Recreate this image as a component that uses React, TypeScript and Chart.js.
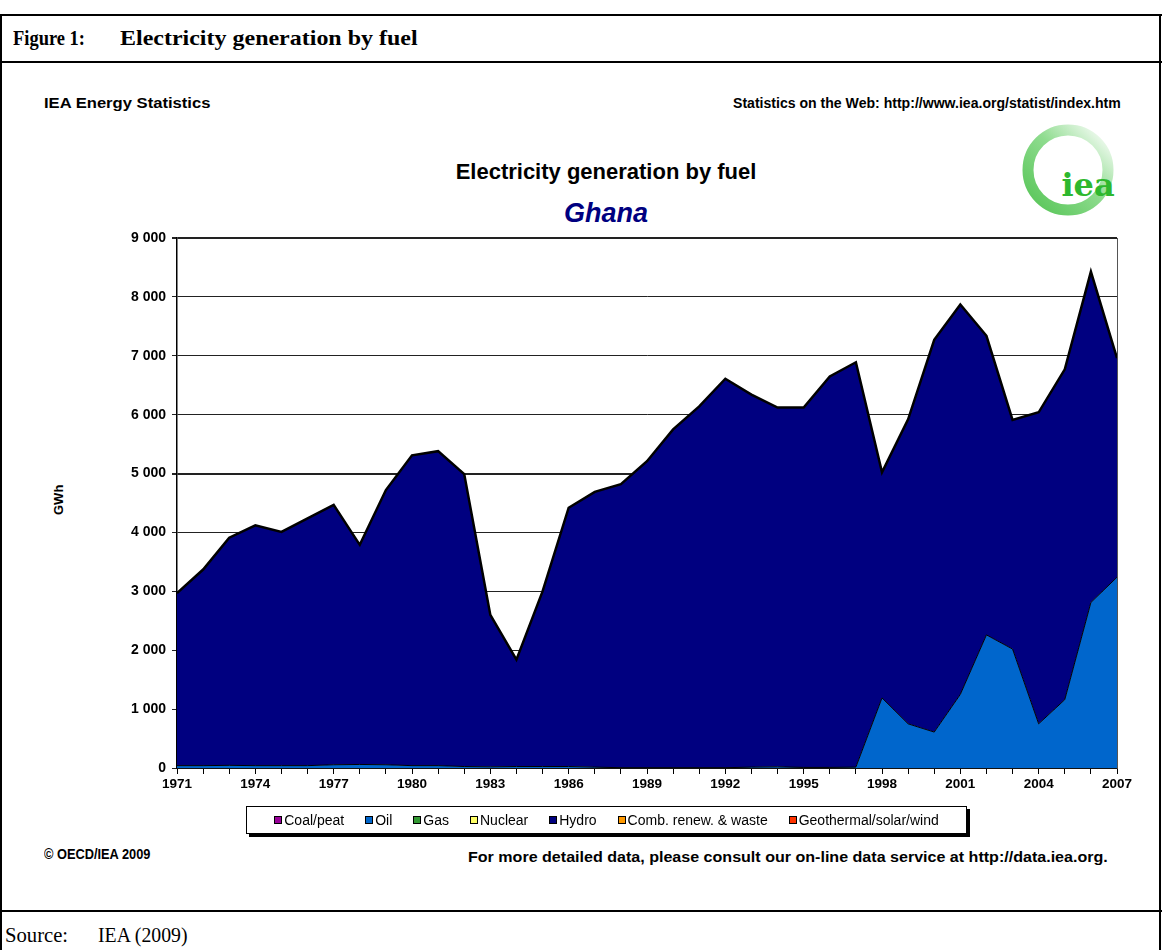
import React, { useEffect, useLayoutEffect, useRef } from "react";
import { Chart, registerables } from "chart.js";
Chart.register(...registerables);

const years = [
  "1971", "1972", "1973", "1974", "1975", "1976", "1977", "1978", "1979", "1980",
  "1981", "1982", "1983", "1984", "1985", "1986", "1987", "1988", "1989", "1990",
  "1991", "1992", "1993", "1994", "1995", "1996", "1997", "1998", "1999", "2000",
  "2001", "2002", "2003", "2004", "2005", "2006", "2007",
];

const coalPeat = [0,0,0,0,0,0,0,0,0,0,0,0,0,0,0,0,0,0,0,0,0,0,0,0,0,0,0,0,0,0,0,0,0,0,0,0,0];
const oil = [
  40, 40, 45, 40, 40, 40, 55, 60, 55, 40,
  40, 25, 20, 25, 25, 25, 15, 5, 5, 5,
  5, 5, 15, 20, 10, 10, 15, 1190, 750, 610,
  1250, 2260, 2020, 750, 1160, 2810, 3240,
];
const gas = [0,0,0,0,0,0,0,0,0,0,0,0,0,0,0,0,0,0,0,0,0,0,0,0,0,0,0,0,0,0,0,0,0,0,0,0,0];
const nuclear = [0,0,0,0,0,0,0,0,0,0,0,0,0,0,0,0,0,0,0,0,0,0,0,0,0,0,0,0,0,0,0,0,0,0,0,0,0];
const hydro = [
  2930, 3330, 3865, 4080, 3970, 4200, 4415, 3730, 4665, 5270,
  5340, 4965, 2580, 1815, 2975, 4395, 4675, 4815, 5205, 5745,
  6135, 6605, 6325, 6100, 6110, 6640, 6875, 3830, 5170, 6660,
  6620, 5080, 3890, 5290, 5610, 5620, 3720,
];
const combRenew = [0,0,0,0,0,0,0,0,0,0,0,0,0,0,0,0,0,0,0,0,0,0,0,0,0,0,0,0,0,0,0,0,0,0,0,0,0];
const geoSolarWind = [0,0,0,0,0,0,0,0,0,0,0,0,0,0,0,0,0,0,0,0,0,0,0,0,0,0,0,0,0,0,0,0,0,0,0,0,0];

const seriesNames = ["Coal/peat", "Oil", "Gas", "Nuclear", "Hydro", "Comb. renew. & waste", "Geothermal/solar/wind"];
const seriesColors = ["#990099", "#0066CC", "#339933", "#FFFF66", "#000080", "#FF9900", "#FF3300"];
const seriesValues = [coalPeat, oil, gas, nuclear, hydro, combRenew, geoSolarWind];

const yMin = 0;
const yMax = 9000;
const yStep = 1000;

const sans = "'Liberation Sans', Arial, sans-serif";
const serif = "'Liberation Serif', 'Times New Roman', serif";

function fmt(v: number) {
  return String(v).replace(/\B(?=(\d{3})+(?!\d))/g, " ");
}

function FitText(props: { left: number; top: number; width: number; style: React.CSSProperties; children: React.ReactNode }) {
  const ref = useRef<HTMLDivElement>(null);
  useLayoutEffect(() => {
    const el = ref.current;
    if (!el) return;
    const nat = el.offsetWidth;
    if (nat > 0) el.style.transform = `scaleX(${props.width / nat})`;
  }, []);
  return (
    <div
      ref={ref}
      style={{ position: "absolute", left: props.left, top: props.top, whiteSpace: "nowrap", transformOrigin: "left top", display: "inline-block", ...props.style }}
    >
      {props.children}
    </div>
  );
}

export default function App() {
  const ref = useRef<HTMLCanvasElement>(null);

  useEffect(() => {
    document.body.style.margin = "0";
    const canvas = ref.current;
    if (!canvas) return;
    const rightEdge = {
      id: "rightEdge",
      afterDatasetsDraw(chart: any) {
        const { ctx, chartArea } = chart;
        ctx.save();
        ctx.strokeStyle = "#555";
        ctx.lineWidth = 1;
        ctx.beginPath();
        ctx.moveTo(Math.round(chartArea.right) + 0.5, chartArea.top);
        ctx.lineTo(Math.round(chartArea.right) + 0.5, chartArea.bottom);
        ctx.stroke();
        ctx.restore();
      },
    };
    const chart = new Chart(canvas, {
      type: "line",
      data: {
        labels: years,
        datasets: seriesValues.map((vals, i) => {
          const nonZero = vals.some((v) => v !== 0);
          const isHydro = seriesNames[i] === "Hydro";
          return {
            label: seriesNames[i],
            data: vals,
            backgroundColor: seriesColors[i],
            borderColor: "#000",
            borderWidth: nonZero ? (isHydro ? 2.5 : 1) : 0,
            pointRadius: 0,
            tension: 0,
            fill: i === 0 ? "origin" : "-1",
          };
        }),
      },
      options: {
        responsive: false,
        animation: false,
        devicePixelRatio: 1,
        layout: { padding: { left: 100, right: 45, top: 18, bottom: 22 } },
        plugins: { legend: { display: false }, tooltip: { enabled: false } },
        scales: {
          x: {
            offset: false,
            afterFit: (s: any) => { s.height = 30; },
            grid: { display: true, drawOnChartArea: false, drawTicks: true, tickLength: 6, color: "#000", lineWidth: 1 },
            border: { display: true, color: "#000", width: 1.5 },
            ticks: {
              autoSkip: false,
              maxRotation: 0,
              padding: 2,
              color: "#000",
              font: { family: sans, size: 13.5, weight: "bold" },
              callback: (_v: any, idx: number) => (idx % 3 === 0 ? years[idx] : ""),
            },
          },
          y: {
            stacked: true,
            min: yMin,
            max: yMax,
            afterFit: (s: any) => { s.width = 77; },
            grid: {
              color: "#222",
              lineWidth: (c: any) => (c.tick && (c.tick.value === 5000 || c.tick.value === 9000) ? 2 : 1),
              tickLength: 5,
            },
            border: { display: true, color: "#000", width: 1.5 },
            ticks: {
              stepSize: yStep,
              padding: 6,
              color: "#000",
              font: { family: sans, size: 14, weight: "bold" },
              callback: (v: any) => fmt(Number(v)),
            },
          },
        },
      },
      plugins: [rightEdge],
    } as any);
    return () => chart.destroy();
  }, []);

  const line = (style: React.CSSProperties) => (
    <div style={{ position: "absolute", background: "#000", ...style }} />
  );

  const smallBold: React.CSSProperties = { fontFamily: sans, fontWeight: "bold", fontSize: 14, lineHeight: "16px", color: "#000" };

  return (
    <div style={{ position: "relative", width: 1162, height: 950, background: "#fff", overflow: "hidden" }}>
      {line({ left: 0, top: 14, width: 1162, height: 2 })}
      {line({ left: 0, top: 61, width: 1162, height: 2 })}
      {line({ left: 0, top: 910, width: 1162, height: 2 })}
      {line({ left: 0, top: 14, width: 2, height: 936 })}
      {line({ left: 1159, top: 14, width: 2, height: 936 })}

      <FitText left={13} top={26} width={72} style={{ fontFamily: serif, fontWeight: "bold", fontSize: 20, lineHeight: "24px" }}>
        Figure 1:
      </FitText>
      <FitText left={120} top={26} width={298} style={{ fontFamily: serif, fontWeight: "bold", fontSize: 21, lineHeight: "24px" }}>
        Electricity generation by fuel
      </FitText>

      <FitText left={5} top={923} width={63} style={{ fontFamily: serif, fontSize: 20, lineHeight: "24px" }}>
        Source:
      </FitText>
      <FitText left={98} top={923} width={90} style={{ fontFamily: serif, fontSize: 20, lineHeight: "24px" }}>
        IEA (2009)
      </FitText>

      <FitText left={44} top={95} width={166} style={smallBold}>
        IEA Energy Statistics
      </FitText>
      <FitText left={733} top={95} width={388} style={smallBold}>
        Statistics on the Web: http://www.iea.org/statist/index.htm
      </FitText>

      <div style={{ position: "absolute", left: 406, width: 400, textAlign: "center", top: 159, fontFamily: sans, fontWeight: "bold", fontSize: 22, lineHeight: "26px", color: "#000" }}>
        Electricity generation by fuel
      </div>
      <div style={{ position: "absolute", left: 406, width: 400, textAlign: "center", top: 197, fontFamily: sans, fontWeight: "bold", fontStyle: "italic", fontSize: 27, lineHeight: "32px", color: "#000080" }}>
        Ghana
      </div>

      <svg style={{ position: "absolute", left: 1015, top: 118 }} width={110} height={110} viewBox="0 0 110 110">
        <defs>
          <linearGradient id="ring" x1="0" y1="1" x2="1" y2="0">
            <stop offset="0" stopColor="#55c455" />
            <stop offset="0.55" stopColor="#8fdc8f" />
            <stop offset="1" stopColor="#ffffff" />
          </linearGradient>
        </defs>
        <circle cx={53} cy={52} r={40} fill="none" stroke="url(#ring)" strokeWidth={11} />
        <text x={73} y={78} textAnchor="middle" fontFamily="'DejaVu Serif', serif" fontWeight="bold" fontSize={32} fill="#2eb82e">
          iea
        </text>
      </svg>

      <div style={{ position: "absolute", left: 44, top: 490, width: 30, height: 20 }}>
        <div style={{ transform: "rotate(-90deg)", transformOrigin: "center", fontFamily: sans, fontWeight: "bold", fontSize: 13, lineHeight: "20px", textAlign: "center" }}>
          GWh
        </div>
      </div>

      <canvas ref={ref} width={1162} height={600} style={{ position: "absolute", left: 0, top: 220, width: 1162, height: 600 }} />

      <div style={{ position: "absolute", left: 246, top: 806, width: 719, height: 26, border: "1px solid #000", boxShadow: "3px 3px 0 #000", background: "#fff", display: "flex", alignItems: "center", justifyContent: "center", gap: 21 }}>
        {seriesNames.map((n, i) => (
          <div key={n} style={{ display: "flex", alignItems: "center", whiteSpace: "nowrap" }}>
            <span style={{ display: "inline-block", width: 6, height: 6, border: "1.5px solid #000", background: seriesColors[i], marginRight: 2 }} />
            <span style={{ fontFamily: sans, fontSize: 14, color: "#000" }}>{n}</span>
          </div>
        ))}
      </div>

      <FitText left={44} top={846} width={106} style={smallBold}>
        © OECD/IEA 2009
      </FitText>
      <FitText left={468} top={849} width={640} style={smallBold}>
        For more detailed data, please consult our on-line data service at http://data.iea.org.
      </FitText>
    </div>
  );
}
